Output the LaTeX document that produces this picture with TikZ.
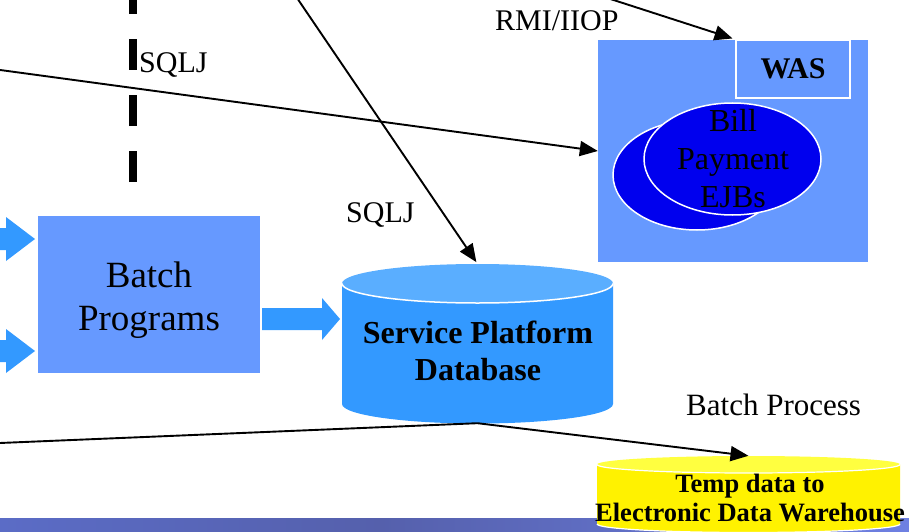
\documentclass[tikz,border=0pt]{standalone}
\usepackage{fontspec}
\setmainfont{Liberation Serif}
\usetikzlibrary{arrows.meta,shapes.geometric}
\definecolor{boxblue}{HTML}{6699FF}
\definecolor{arrblue}{HTML}{3399FF}
\definecolor{dbtop}{HTML}{5AAEFF}
\definecolor{ejbblue}{HTML}{0000EE}
\definecolor{edwtop}{HTML}{FFFF40}
\definecolor{bandA}{HTML}{5B6CC6}
\definecolor{bandB}{HTML}{5560AC}
\definecolor{bandC}{HTML}{6E80E2}
\begin{document}
\begin{tikzpicture}[x=1pt,y=-1pt,
  conn/.style={line width=1.9pt,-{Triangle[length=18pt,width=15pt]}},
  lbl/.style={inner sep=0pt,font=\fontsize{30}{36}\selectfont},
  bluebox/.style={fill=boxblue,draw=none,inner sep=0pt},
  ejbell/.style={ellipse,fill=ejbblue,draw=white,line width=1.5pt,inner sep=0pt},
  blockarrow/.style={fill=arrblue,draw=none}]
\useasboundingbox (0,0) rectangle (909,532);
\clip (0,0) rectangle (909,532);

% bottom band
\shade[left color=bandA,right color=bandB] (0,518) rectangle (381,532);
\shade[left color=bandB,right color=bandC] (380,518) rectangle (909,532);

% dashed separator
\draw[line width=8pt,dash pattern=on 31pt off 25pt] (133,182) -- (133,-10);

% WAS container
\node[bluebox,minimum width=270pt,minimum height=222pt] (was) at (733,151) {};
\node[draw=white,line width=1.2pt,inner sep=0pt,minimum width=114pt,minimum height=58pt,
      font=\fontsize{30}{36}\selectfont\bfseries] (wasl) at (793,69) {WAS};
\node[ejbell,minimum width=168pt,minimum height=110pt] (ejbback) at (697,175) {};
\node[ejbell,minimum width=177pt,minimum height=112pt] (ejb) at (732.5,159) {};
\node[inner sep=0pt,align=center,font=\fontsize{32}{38}\selectfont] (ejbtxt) at (733,159) {Bill\\Payment\\EJBs};

% Batch programs
\node[bluebox,minimum width=222pt,minimum height=157pt] (batch) at (149,294.5) {};
\node[inner sep=0pt,align=center,font=\fontsize{37}{43}\selectfont] (batchtxt) at (149,300) {Batch\\Programs};

% block arrows
\fill[blockarrow] (-2,228) -- (6,228) -- (6,217) -- (35,239) -- (6,261) -- (6,250) -- (-2,250) -- cycle;
\fill[blockarrow] (-2,340) -- (6,340) -- (6,329) -- (35,351) -- (6,373) -- (6,362) -- (-2,362) -- cycle;
\fill[blockarrow] (262,308) -- (322,308) -- (322,298) -- (340,319) -- (322,340) -- (322,330) -- (262,330) -- cycle;

% Service Platform Database cylinder
\node[inner sep=0pt,minimum width=271pt,minimum height=159pt] (db) at (477.5,343.5) {};
\fill[arrblue] (342,283.5) -- (342,404) arc[start angle=180,end angle=360,x radius=135.5pt,y radius=19.5pt] -- (613,283.5) -- cycle;
\fill[dbtop] (477.5,283.5) ellipse[x radius=135.5pt,y radius=19.5pt];
\draw[white,line width=1.5pt] (342,283.5) arc[start angle=180,end angle=360,x radius=135.5pt,y radius=19.5pt];
\node[inner sep=0pt,align=center,font=\fontsize{32}{37}\selectfont\bfseries] (dbtxt) at (478,350.5) {Service Platform\\Database};

% Temp data cylinder
\node[inner sep=0pt,minimum width=303pt,minimum height=77pt] (edw) at (748.5,494.5) {};
\fill[yellow] (597,464.5) -- (597,524) arc[start angle=180,end angle=360,x radius=151.5pt,y radius=8.5pt] -- (900,464.5) -- cycle;
\draw[white,line width=1.2pt] (597,524) arc[start angle=180,end angle=360,x radius=151.5pt,y radius=8.5pt];
\fill[edwtop] (748.5,464.5) ellipse[x radius=151.5pt,y radius=8.5pt];
\draw[white,line width=1.2pt] (597,464.5) arc[start angle=180,end angle=360,x radius=151.5pt,y radius=8.5pt];
\node[inner sep=0pt,align=center,font=\fontsize{26.5}{28.5}\selectfont\bfseries] (edwtxt) at (750,498) {Temp data to\\Electronic Data Warehouse};

% labels
\node[lbl,anchor=base west] (sqlja) at (139,73) {SQLJ};
\node[lbl,anchor=base west] (sqljb) at (346,222) {SQLJ};
\node[lbl,anchor=base west] (rmi) at (495,31) {RMI/IIOP};
\node[lbl,anchor=base west,font=\fontsize{31}{36}\selectfont] (bproc) at (686,415) {Batch Process};

% connectors
\coordinate (inA) at (-5,69.3);
\coordinate (inB) at (295,-5);
\coordinate (inC) at (598,-5);
\coordinate (inD) at (-5,443.2);
\draw[conn] (inA) -- (was.west);
\draw[conn,shorten >=2pt] (inB) -- (db.north);
\draw[conn,shorten >=3pt] (inC) -- (wasl.north west);
\draw[conn] (inD) -- (db.south) -- (edw.north);
\end{tikzpicture}
\end{document}
